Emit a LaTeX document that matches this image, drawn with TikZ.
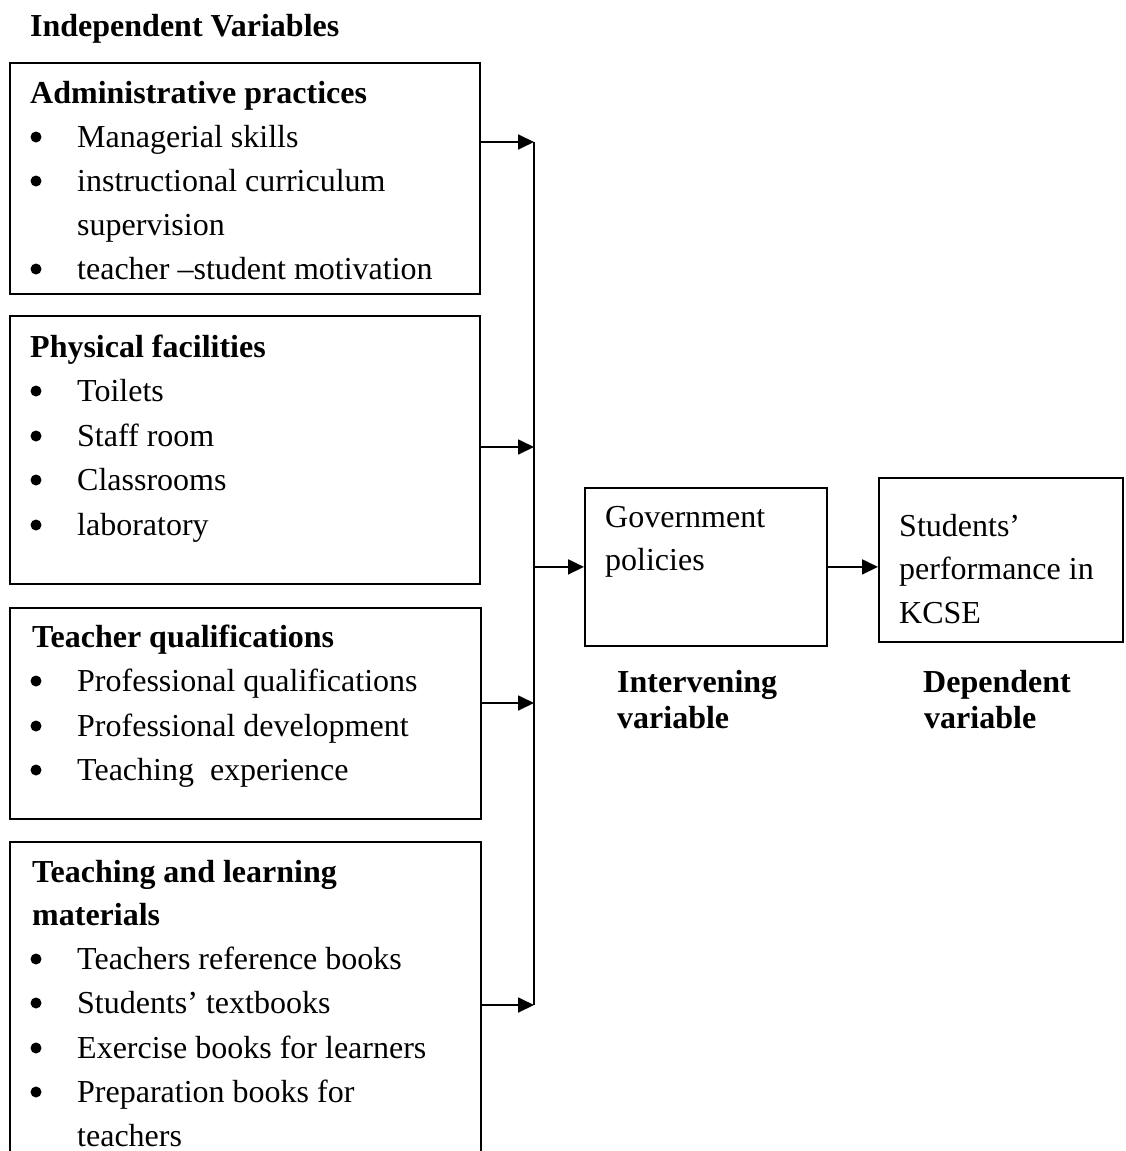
\documentclass[tikz,border=0pt]{standalone}
\usepackage{fontspec}
\setmainfont{Liberation Serif}
\usetikzlibrary{arrows.meta}
\tikzset{
  boxn/.style={draw, line width=1.8pt, rectangle, anchor=north west, inner sep=0pt},
  txt/.style={anchor=base west, inner sep=0pt, font=\fontsize{32}{44}\selectfont},
  btxt/.style={txt, font=\fontsize{32}{44}\selectfont\bfseries},
  bul/.style={circle, fill=black, minimum size=11pt, inner sep=0pt},
  arr/.style={line width=1.8pt, -{Triangle[length=16pt,width=15pt]}},
  ln/.style={line width=1.8pt}
}
\begin{document}
\begin{tikzpicture}[x=1pt,y=-1pt]
\useasboundingbox (0,0) rectangle (1125,1151);
\clip (0,0) rectangle (1125,1151);
% boxes
\node[boxn, minimum width=470pt, minimum height=231pt] (b1) at (9,62) {};
\node[boxn, minimum width=470pt, minimum height=268pt] (b2) at (9,315) {};
\node[boxn, minimum width=471pt, minimum height=211pt] (b3) at (9,607) {};
\node[boxn, minimum width=471pt, minimum height=330pt] (b4) at (9,841) {};
\node[boxn, minimum width=242pt, minimum height=158pt] (gov) at (584,487) {};
\node[boxn, minimum width=244pt, minimum height=164pt] (stu) at (878,477) {};
% title
\node[btxt] (title) at (30,36) {Independent Variables};
% box 1
\node[btxt] (h1) at (30,103) {Administrative practices};
\node[bul] (d11) at (36,137) {}; \node[txt] (i11) at (77,147) {Managerial skills};
\node[bul] (d12) at (36,181) {}; \node[txt] (i12) at (77,191) {instructional curriculum};
\node[txt] (i12b) at (77,235) {supervision};
\node[bul] (d13) at (36,269) {}; \node[txt] (i13) at (77,279) {teacher –student motivation};
% box 2
\node[btxt] (h2) at (30,357) {Physical facilities};
\node[bul] (d21) at (36,391) {}; \node[txt] (i21) at (77,401) {Toilets};
\node[bul] (d22) at (36,436) {}; \node[txt] (i22) at (77,446) {Staff room};
\node[bul] (d23) at (36,480) {}; \node[txt] (i23) at (77,490) {Classrooms};
\node[bul] (d24) at (36,525) {}; \node[txt] (i24) at (77,535) {laboratory};
% box 3
\node[btxt] (h3) at (32,647) {Teacher qualifications};
\node[bul] (d31) at (36,681) {}; \node[txt] (i31) at (77,691) {Professional qualifications};
\node[bul] (d32) at (36,726) {}; \node[txt] (i32) at (77,736) {Professional development};
\node[bul] (d33) at (36,770) {}; \node[txt] (i33) at (77,780) {Teaching\ \ experience};
% box 4
\node[btxt] (h4) at (32,882) {Teaching and learning};
\node[btxt] (h4b) at (32,925) {materials};
\node[bul] (d41) at (36,959) {}; \node[txt] (i41) at (77,969) {Teachers reference books};
\node[bul] (d42) at (36,1003) {}; \node[txt] (i42) at (77,1013) {Students’ textbooks};
\node[bul] (d43) at (36,1048) {}; \node[txt] (i43) at (77,1058) {Exercise books for learners};
\node[bul] (d44) at (36,1092) {}; \node[txt] (i44) at (77,1102) {Preparation books for};
\node[txt] (i44b) at (77,1146) {teachers};
% right texts
\node[txt] (g1) at (605,527) {Government};
\node[txt] (g2) at (605,570) {policies};
\node[txt] (s1) at (899,536) {Students’};
\node[txt] (s2) at (899,579) {performance in};
\node[txt] (s3) at (899,623) {KCSE};
\node[btxt] (iv1) at (617,692) {Intervening};
\node[btxt] (iv2) at (617,728) {variable};
\node[btxt] (dv1) at (923,692) {Dependent};
\node[btxt] (dv2) at (924,728) {variable};
% connectors
\coordinate (bus1) at (534,142);
\coordinate (bus2) at (534,447);
\coordinate (bus3) at (534,703);
\coordinate (bus4) at (534,1005);
\draw[ln] (bus1) -- (bus4);
\draw[arr] (b1.east |- bus1) -- (bus1);
\draw[arr] (b2.east |- bus2) -- (bus2);
\draw[arr] (b3.east |- bus3) -- (bus3);
\draw[arr] (b4.east |- bus4) -- (bus4);
\draw[arr] (bus1 |- gov.west) -- (gov.west);
\draw[arr] (gov.east) -- (gov.east -| stu.west);
\end{tikzpicture}
\end{document}
